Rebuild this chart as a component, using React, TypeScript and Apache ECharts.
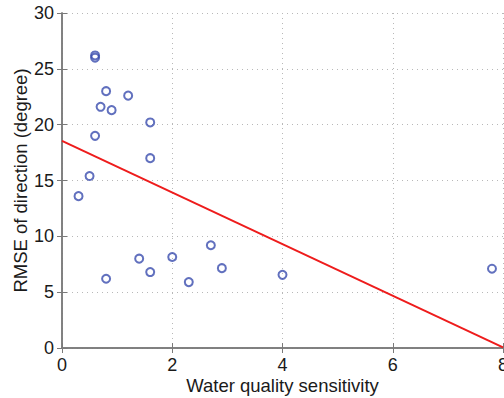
import React, { useEffect, useRef } from "react";
import * as echarts from "echarts";

const sensitivity = [0.6, 0.6, 0.8, 1.2, 0.7, 0.9, 1.6, 0.6, 1.6, 0.5, 0.3, 0.8, 1.4, 1.6, 2.0, 2.3, 2.7, 2.9, 4.0, 7.8];
const rmse = [26.2, 26.0, 23.0, 22.6, 21.6, 21.3, 20.2, 19.0, 17.0, 15.4, 13.6, 6.2, 8.0, 6.8, 8.15, 5.9, 9.2, 7.15, 6.55, 7.1];
const fitX = [0, 8];
const fitY = [18.55, 0.05];
const xTicks = [0, 2, 4, 6, 8];
const yTicks = [0, 5, 10, 15, 20, 25, 30];

export default function App() {
  const ref = useRef<HTMLDivElement>(null);
  useEffect(() => {
    document.body.style.margin = "0";
    const chart = echarts.init(ref.current!, null, { renderer: "svg" });
    const font = "'Liberation Sans', Arial, Helvetica, sans-serif";
    const axisColor = "#7a7a7a";
    const gridLine = { show: true, lineStyle: { type: [1, 4] as any, color: "#b8b8b8", width: 1 } };
    chart.setOption({
      animation: false,
      backgroundColor: "#ffffff",
      grid: { left: 62, top: 13, right: 1, bottom: 50, containLabel: false, outerBoundsMode: "none" },
      xAxis: [
        {
          type: "value",
          min: xTicks[0],
          max: xTicks[xTicks.length - 1],
          interval: 2,
          position: "bottom",
          name: "Water quality sensitivity",
          nameLocation: "middle",
          nameGap: 28,
          nameMoveOverlap: false,
          nameTextStyle: { fontFamily: font, fontSize: 18.5, color: "#1a1a1a" },
          axisLine: { show: true, lineStyle: { color: axisColor, width: 1.5 } },
          axisTick: { show: true, inside: true, length: 5, lineStyle: { color: axisColor } },
          axisLabel: { fontFamily: font, fontSize: 18, color: "#1a1a1a", margin: 8, hideOverlap: false },
          splitLine: gridLine,
        },
        {
          type: "value",
          min: 0,
          max: 8,
          interval: 2,
          position: "top",
          axisLine: { show: true, lineStyle: { color: axisColor, width: 1.5 } },
          axisTick: { show: true, inside: true, length: 5, lineStyle: { color: axisColor } },
          axisLabel: { show: false },
          splitLine: { show: false },
        },
      ],
      yAxis: [
        {
          type: "value",
          min: yTicks[0],
          max: yTicks[yTicks.length - 1],
          interval: 5,
          position: "left",
          name: "RMSE of direction (degree)",
          nameLocation: "middle",
          nameGap: 32,
          nameMoveOverlap: false,
          nameTextStyle: { fontFamily: font, fontSize: 18.5, color: "#1a1a1a" },
          axisLine: { show: true, lineStyle: { color: axisColor, width: 1.5 } },
          axisTick: { show: true, inside: true, length: 5, lineStyle: { color: axisColor } },
          axisLabel: { fontFamily: font, fontSize: 18, color: "#1a1a1a", margin: 8 },
          splitLine: gridLine,
        },
        {
          type: "value",
          min: 0,
          max: 30,
          interval: 5,
          position: "right",
          axisLine: { show: true, lineStyle: { color: axisColor, width: 1.5 } },
          axisTick: { show: true, inside: true, length: 5, lineStyle: { color: axisColor } },
          axisLabel: { show: false },
          splitLine: { show: false },
        },
      ],
      series: [
        {
          type: "line",
          data: fitX.map((x, i) => [x, fitY[i]]),
          showSymbol: false,
          symbol: "none",
          lineStyle: { color: "#ee1c1c", width: 2 },
          z: 3,
        },
        {
          type: "scatter",
          data: sensitivity.map((x, i) => [x, rmse[i]]),
          symbol: "circle",
          symbolSize: 8,
          itemStyle: { color: "rgba(0,0,0,0)", borderColor: "#3a4cae", borderWidth: 2 },
          z: 4,
        },
      ],
    });
    return () => chart.dispose();
  }, []);
  return <div ref={ref} style={{ position: "absolute", left: 0, top: 0, width: 504, height: 398 }} />;
}
